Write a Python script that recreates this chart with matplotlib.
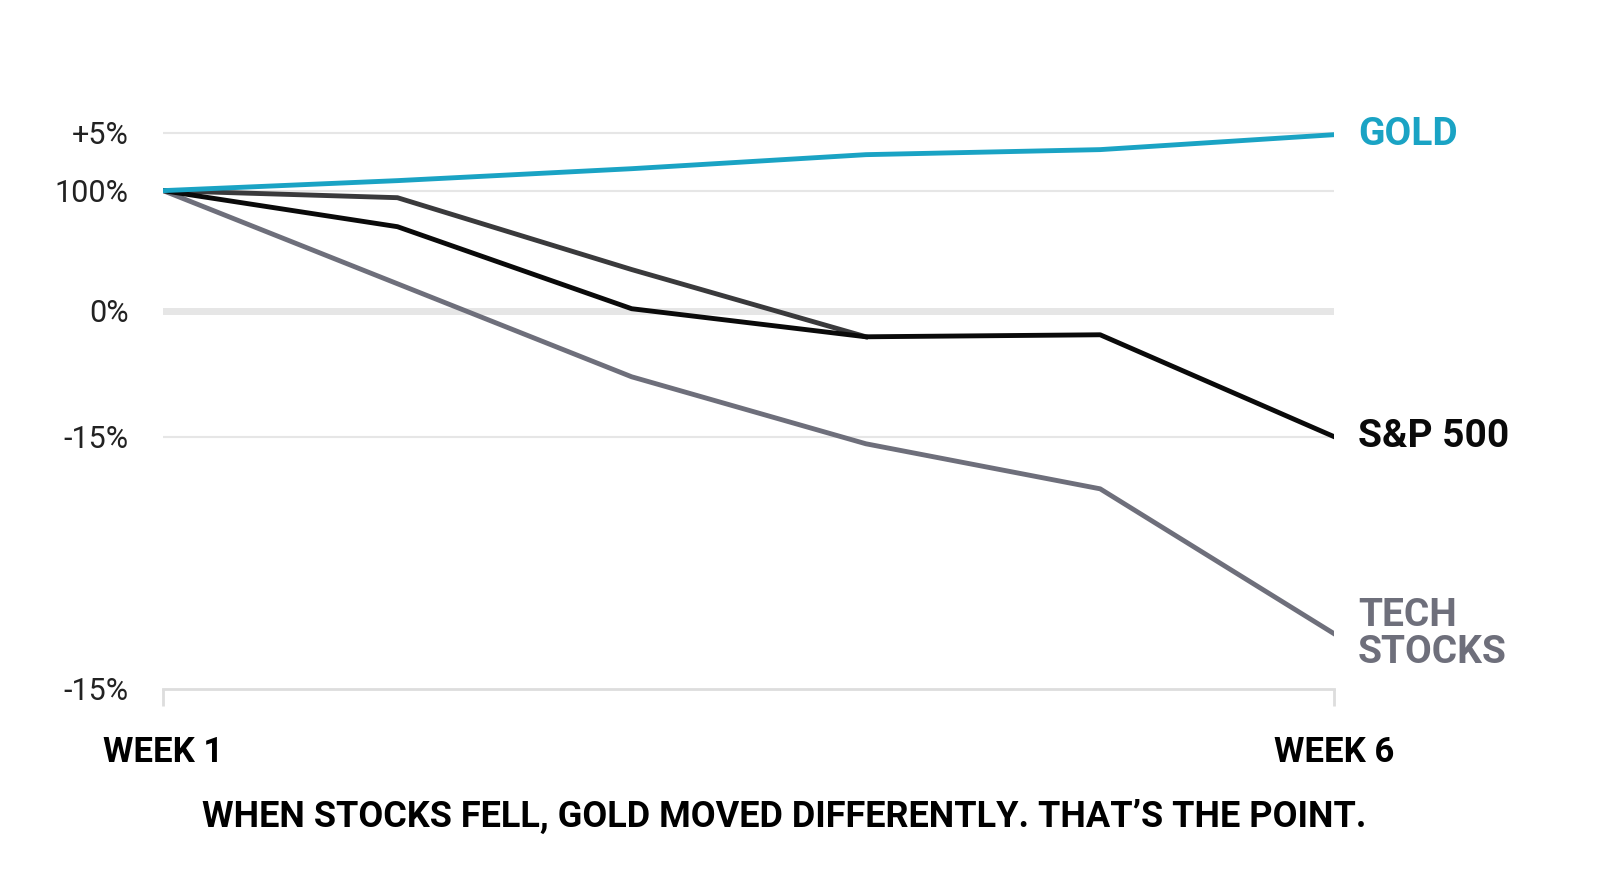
import matplotlib.pyplot as plt
from matplotlib import font_manager

names = {f.name for f in font_manager.fontManager.ttflist}
cond = 'Liberation Sans Narrow' if 'Liberation Sans Narrow' in names else 'Roboto'

weeks = [1, 2, 3, 4, 5, 6]
gold = [14.29, 15.48, 16.9, 18.57, 19.17, 20.95]
sp500 = [14.29, 10.0, 0.24, -3.1, -2.86, -15.0]
dark = [14.29, 13.45, 4.9, -3.1]
tech = [14.29, 3.21, -7.86, -15.83, -21.19, -38.45]

tick_pos = [21.2, 14.3, 0, -15, -45]
tick_lab = ['+5%', '100%', '0%', '-15%', '-15%']

fig = plt.figure(figsize=(16, 8.93), dpi=100)
ax = fig.add_axes([0.102, 0.2285, 0.732, 0.64])
ax.set_xlim(1, 6)
ax.set_ylim(-45, 23)

for t in tick_pos[:-1]:
    ax.axhline(t, color='#e6e6e6', lw=5 if t == 0 else 1.5, zorder=0)

ax.plot(weeks[:4], dark, color='#3a3a3c', lw=3.5)
ax.plot(weeks, tech, color='#6e6f7b', lw=3.5)
ax.plot(weeks, sp500, color='#0a0a0a', lw=3.5)
ax.plot(weeks, gold, color='#1aa3c4', lw=3.5)

for s in ['top', 'right', 'left']:
    ax.spines[s].set_visible(False)
ax.spines['bottom'].set_color('#dddddd')
ax.spines['bottom'].set_linewidth(2)

ax.set_yticks(tick_pos)
ax.set_yticklabels(tick_lab, fontsize=22, fontfamily='Roboto', color='#222222')
ax.tick_params(axis='y', length=0, pad=25)
ax.set_xticks([1, 6])
ax.set_xticklabels(['WEEK 1', 'WEEK 6'], fontsize=25, fontweight='bold', fontfamily=cond)
ax.tick_params(axis='x', length=12, width=2, color='#dddddd', pad=22)

ax.text(6.1, gold[-1], 'GOLD', color='#1aa3c4', fontsize=28, fontweight='bold',
        fontfamily=cond, va='center')
ax.text(6.1, sp500[-1], 'S&P 500', color='#0a0a0a', fontsize=28, fontweight='bold',
        fontfamily=cond, va='center')
ax.text(6.1, tech[-1], 'TECH\nSTOCKS', color='#6e6f7b', fontsize=28, fontweight='bold',
        fontfamily=cond, va='center', linespacing=1.0)

fig.text(0.49, 0.085, 'WHEN STOCKS FELL, GOLD MOVED DIFFERENTLY. THAT\u2019S THE POINT.',
         ha='center', va='center', fontsize=26, fontweight='bold', fontfamily=cond)

fig.savefig('out.png', dpi=100)
